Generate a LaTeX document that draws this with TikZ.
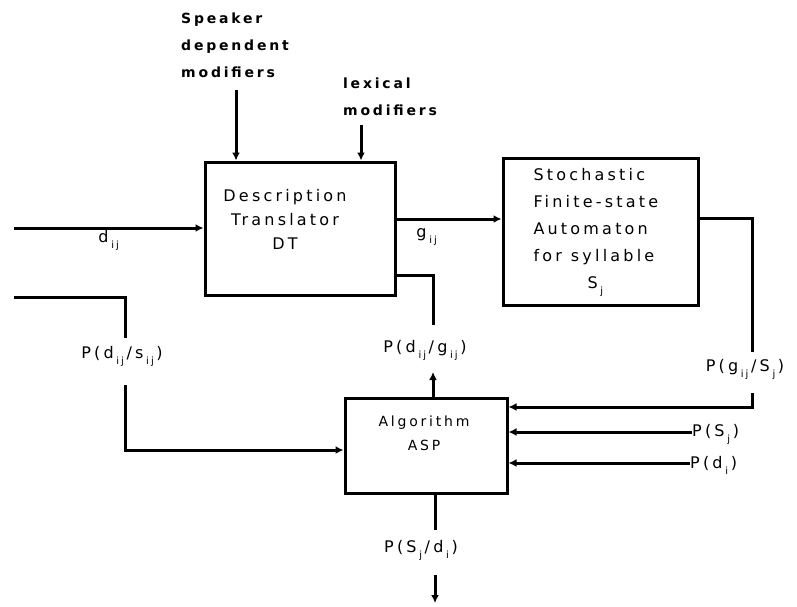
\documentclass[tikz,border=0pt]{standalone}
\usepackage{fontspec}
\newfontfamily\diagfont[LetterSpace=20]{DejaVu Sans}
\newcommand\sbs[1]{\,\raisebox{-6pt}{\fontsize{10}{10}\selectfont #1}\,}
\usetikzlibrary{arrows.meta, positioning, calc}

\begin{document}
\begin{tikzpicture}[
  x=1pt, y=-1pt,
  block/.style={draw, line width=3pt, minimum width=#1},
  boxtext/.style={font=\diagfont\fontsize{16}{24}\selectfont, align=center, inner sep=0pt},
  lbl/.style={font=\diagfont\fontsize{16}{27}\selectfont, inner sep=0pt},
  boldlbl/.style={lbl, font=\diagfont\bfseries\fontsize{14}{27}\selectfont, align=left},
  wire/.style={line width=3pt},
  arr/.style={wire, -{Latex[length=8pt,width=8pt]}},
]
  \useasboundingbox (0,0) rectangle (797,607);

  % blocks
  \node[block=190pt, minimum height=133pt] (dt) at (300,228.5) {};
  \node[boxtext] (dttext) at ([xshift=-15pt,yshift=9pt]dt.center) {Description\\Translator\\DT};
  \node[block=195pt, minimum height=147pt] (sto) at (600.5,231.5) {};
  \node[lbl, text width=150pt, align=left] (stotext) at ([xshift=8pt,yshift=-1pt]sto.center)
    {Stochastic\\Finite-state\\Automaton\\for\hspace{9pt}syllable\\\hspace*{54pt}S\sbs{j}};
  \node[block=162pt, minimum height=95pt] (asp) at (426,445.5) {};
  \node[boxtext, font=\diagfont\fontsize{14}{24}\selectfont] (asptext) at ([xshift=-2pt,yshift=12pt]asp.center) {Algorithm\\ASP};

  % modifiers
  \node[boldlbl] (spk) at (235,45) {Speaker\\dependent\\modifiers};
  \node[boldlbl] (lex) at (390,97) {lexical\\modifiers};
  \coordinate (spkend) at (236,90);
  \coordinate (lexend) at (361,125);
  \draw[arr] (spkend) -- (spkend |- dt.north);
  \draw[arr] (lexend) -- (lexend |- dt.north);

  % input and DT -> automaton
  \coordinate (din) at (14,228);
  \draw[arr] (din) -- (din -| dt.west);
  \node[lbl] (dlab) at (110,240) {d\sbs{ij}};
  \coordinate (gy) at (0,219);
  \draw[arr] (dt.east |- gy) -- (sto.west |- gy);
  \node[lbl] (glab) at (428,237) {g\sbs{ij}};

  % DT -> P(d/g)
  \coordinate (dgtop) at (433,325);
  \draw[wire] (dt.east |- 0,275) -| (dgtop);
  \node[lbl] (pdg) at (425,350) {P(d\sbs{ij}/g\sbs{ij})};
  \coordinate (dgbot) at (433,372);
  \draw[arr] (dgbot |- asp.north) -- (dgbot);

  % left input
  \coordinate (lin) at (14,297);
  \coordinate (ltop) at (125,338);
  \draw[wire] (lin) -| (ltop);
  \node[lbl] (pds) at (122,356) {P(d\sbs{ij}/s\sbs{ij})};
  \coordinate (lbot) at (125,385);
  \draw[arr] (lbot) |- (asp.west |- 0,450);

  % right inputs
  \coordinate (rtop) at (752,352);
  \draw[wire] (sto.east |- 0,218) -| (rtop);
  \node[lbl] (pgs) at (745,369) {P(g\sbs{ij}/S\sbs{j})};
  \coordinate (rbot) at (752,393);
  \draw[arr] (rbot) |- (asp.east |- 0,407);
  \node[lbl, anchor=west] (psj) at (692,434) {P(S\sbs{j})};
  \draw[arr] (psj.west |- 0,432) -- (asp.east |- 0,432);
  \node[lbl, anchor=west] (pdi) at (690,465) {P(d\sbs{i})};
  \draw[arr] (pdi.west |- 0,463) -- (asp.east |- 0,463);

  % output
  \coordinate (outtop) at (435,530);
  \draw[wire] (outtop |- asp.south) -- (outtop);
  \node[lbl] (psd) at (421,550) {P(S\sbs{j}/d\sbs{i})};
  \coordinate (outbot) at (435,575);
  \coordinate (outend) at (435,603);
  \draw[arr] (outbot) -- (outend);
\end{tikzpicture}
\end{document}
